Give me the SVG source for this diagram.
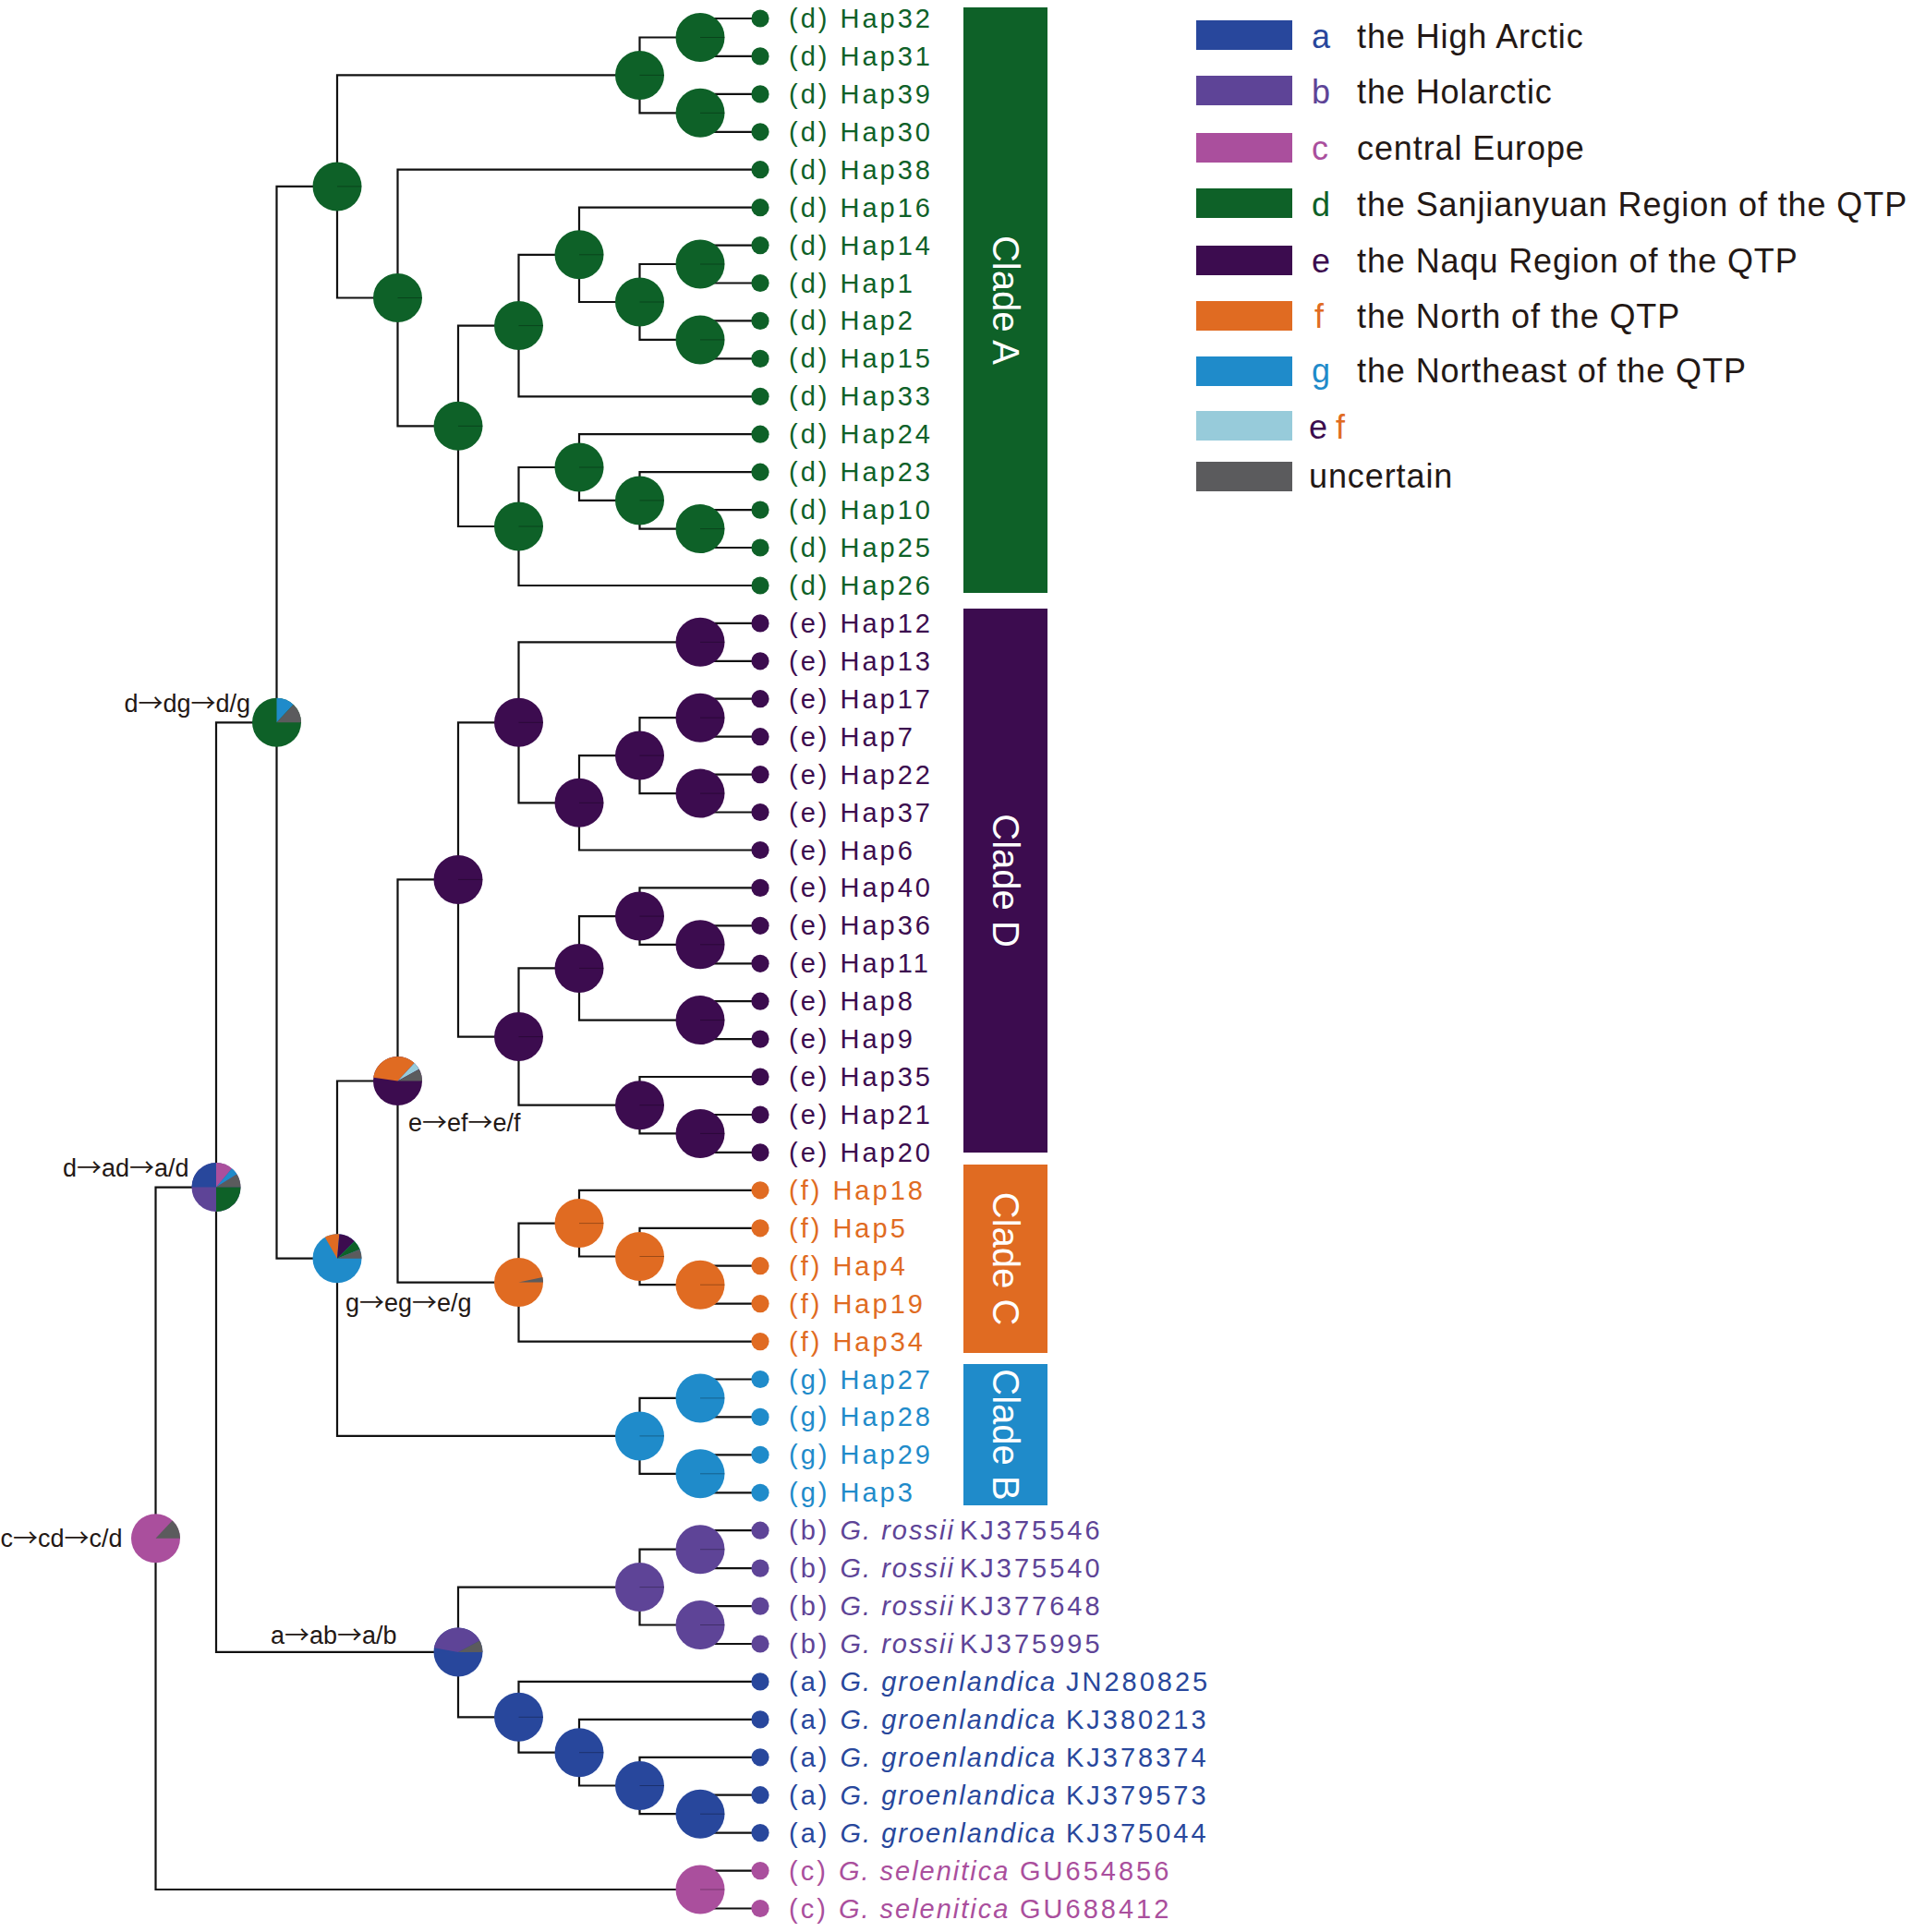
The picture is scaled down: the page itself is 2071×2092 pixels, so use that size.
<svg xmlns="http://www.w3.org/2000/svg" width="2071" height="2092" viewBox="0 0 2071 2092">
<style>
text{font-family:"Liberation Sans",Arial,sans-serif}
.a{fill:#28479c}.b{fill:#5e4497}.c{fill:#aa4f9d}.d{fill:#0e6128}.e{fill:#3c0c4f}.f{fill:#e06b22}.g{fill:#1f8bca}.ef{fill:#97cbda}.u{fill:#5b5b5d}
.conn{fill:none;stroke:#111;stroke-width:2.2;stroke-linejoin:miter}
.tk{fill:none;stroke:#000;stroke-opacity:.3;stroke-width:1}
.lbl{font-size:29px;letter-spacing:3px}
.it{font-style:italic;letter-spacing:2px}
.tl{font-size:27px;fill:#231815}
.ar{font-family:"Noto Sans CJK SC","Liberation Sans",sans-serif}
.lg{font-size:36px;letter-spacing:0.9px;fill:#231815}
.lk{font-size:36px}
.clade{font-size:40px;fill:#fff;text-anchor:middle}
</style>
<rect width="2071" height="2092" fill="#fff"/>

<g id="connectors" class="conn">
<path d="M823 20H758V60.9H823M823 101.9H758V142.8H823M758 40.5H692.5V122.3H758M823 265.6H758V306.5H823M823 347.4H758V388.4H823M758 286H692.5V367.9H758M823 224.7H627V327H692.5M627 275.8H561.5V429.3H823M823 552.1H758V593H823M823 511.2H692.5V572.6H758M823 470.2H627V541.9H692.5M627 506H561.5V634H823M561.5 352.6H496V570H561.5M823 183.7H430.5V461.3H496M692.5 81.4H365V322.5H430.5"/>
<path d="M823 674.9H758V715.8H823M823 756.7H758V797.7H823M823 838.6H758V879.5H823M758 777.2H692.5V859.1H758M692.5 818.1H627V920.5H823M758 695.3H561.5V869.3H627M823 1002.3H758V1043.3H823M823 961.4H692.5V1022.8H758M823 1084.2H758V1125.1H823M692.5 992.1H627V1104.6H758M823 1207H758V1247.9H823M823 1166H692.5V1227.4H758M627 1048.4H561.5V1196.7H692.5M561.5 782.3H496V1122.6H561.5"/>
<path d="M823 1370.7H758V1411.6H823M823 1329.8H692.5V1391.2H758M823 1288.8H627V1360.5H692.5M627 1324.6H561.5V1452.6H823M496 952.4H430.5V1388.6H561.5"/>
<path d="M823 1493.5H758V1534.4H823M823 1575.3H758V1616.3H823M758 1513.9H692.5V1595.8H758M430.5 1170.5H365V1554.9H692.5M365 201.9H299.5V1362.7H365"/>
<path d="M823 1657.2H758V1698.1H823M823 1739.1H758V1780H823M758 1677.7H692.5V1759.5H758M823 1943.7H758V1984.6H823M823 1902.8H692.5V1964.2H758M823 1861.9H627V1933.5H692.5M823 1820.9H561.5V1897.7H627M692.5 1718.6H496V1859.3H561.5M299.5 782.3H234V1788.9H496M823 2025.6H758V2066.5H823M234 1285.6H168.5V2046H758"/>
</g>

<g id="node-A-32-31" class="d"><circle cx="758" cy="40.5" r="26.5"/><path class="tk" d="M758 40.5h26.5"/></g>
<g id="node-A-39-30" class="d"><circle cx="758" cy="122.3" r="26.5"/><path class="tk" d="M758 122.3h26.5"/></g>
<g id="node-A-top" class="d"><circle cx="692.5" cy="81.4" r="26.5"/><path class="tk" d="M692.5 81.4h26.5"/></g>
<g id="node-A-14-1" class="d"><circle cx="758" cy="286" r="26.5"/><path class="tk" d="M758 286h26.5"/></g>
<g id="node-A-2-15" class="d"><circle cx="758" cy="367.9" r="26.5"/><path class="tk" d="M758 367.9h26.5"/></g>
<g id="node-A8a" class="d"><circle cx="692.5" cy="327" r="26.5"/><path class="tk" d="M692.5 327h26.5"/></g>
<g id="node-A7a" class="d"><circle cx="627" cy="275.8" r="26.5"/><path class="tk" d="M627 275.8h26.5"/></g>
<g id="node-A6a" class="d"><circle cx="561.5" cy="352.6" r="26.5"/><path class="tk" d="M561.5 352.6h26.5"/></g>
<g id="node-A-10-25" class="d"><circle cx="758" cy="572.6" r="26.5"/><path class="tk" d="M758 572.6h26.5"/></g>
<g id="node-A8b" class="d"><circle cx="692.5" cy="541.9" r="26.5"/><path class="tk" d="M692.5 541.9h26.5"/></g>
<g id="node-A7b" class="d"><circle cx="627" cy="506" r="26.5"/><path class="tk" d="M627 506h26.5"/></g>
<g id="node-A6b" class="d"><circle cx="561.5" cy="570" r="26.5"/><path class="tk" d="M561.5 570h26.5"/></g>
<g id="node-A5" class="d"><circle cx="496" cy="461.3" r="26.5"/><path class="tk" d="M496 461.3h26.5"/></g>
<g id="node-A4" class="d"><circle cx="430.5" cy="322.5" r="26.5"/><path class="tk" d="M430.5 322.5h26.5"/></g>
<g id="node-A3" class="d"><circle cx="365" cy="201.9" r="26.5"/><path class="tk" d="M365 201.9h26.5"/></g>

<g id="node-D-12-13" class="e"><circle cx="758" cy="695.3" r="26.5"/><path class="tk" d="M758 695.3h26.5"/></g>
<g id="node-D-17-7" class="e"><circle cx="758" cy="777.2" r="26.5"/><path class="tk" d="M758 777.2h26.5"/></g>
<g id="node-D-22-37" class="e"><circle cx="758" cy="859.1" r="26.5"/><path class="tk" d="M758 859.1h26.5"/></g>
<g id="node-D8a" class="e"><circle cx="692.5" cy="818.1" r="26.5"/><path class="tk" d="M692.5 818.1h26.5"/></g>
<g id="node-D7a" class="e"><circle cx="627" cy="869.3" r="26.5"/><path class="tk" d="M627 869.3h26.5"/></g>
<g id="node-D6a" class="e"><circle cx="561.5" cy="782.3" r="26.5"/><path class="tk" d="M561.5 782.3h26.5"/></g>
<g id="node-D-36-11" class="e"><circle cx="758" cy="1022.8" r="26.5"/><path class="tk" d="M758 1022.8h26.5"/></g>
<g id="node-D8b" class="e"><circle cx="692.5" cy="992.1" r="26.5"/><path class="tk" d="M692.5 992.1h26.5"/></g>
<g id="node-D-8-9" class="e"><circle cx="758" cy="1104.6" r="26.5"/><path class="tk" d="M758 1104.6h26.5"/></g>
<g id="node-D7b" class="e"><circle cx="627" cy="1048.4" r="26.5"/><path class="tk" d="M627 1048.4h26.5"/></g>
<g id="node-D-21-20" class="e"><circle cx="758" cy="1227.4" r="26.5"/><path class="tk" d="M758 1227.4h26.5"/></g>
<g id="node-D8c" class="e"><circle cx="692.5" cy="1196.7" r="26.5"/><path class="tk" d="M692.5 1196.7h26.5"/></g>
<g id="node-D6b" class="e"><circle cx="561.5" cy="1122.6" r="26.5"/><path class="tk" d="M561.5 1122.6h26.5"/></g>
<g id="node-D5" class="e"><circle cx="496" cy="952.4" r="26.5"/><path class="tk" d="M496 952.4h26.5"/></g>

<g id="node-C-4-19" class="f"><circle cx="758" cy="1391.2" r="26.5"/><path class="tk" d="M758 1391.2h26.5"/></g>
<g id="node-C8" class="f"><circle cx="692.5" cy="1360.5" r="26.5"/><path class="tk" d="M692.5 1360.5h26.5"/></g>
<g id="node-C7" class="f"><circle cx="627" cy="1324.6" r="26.5"/><path class="tk" d="M627 1324.6h26.5"/></g>
<g id="node-C6"><circle class="f" cx="561.5" cy="1388.6" r="26.5"/><path class="u" d="M561.5 1388.6L587.42 1383.09A26.5 26.5 0 0 1 588 1388.6Z"/></g>

<g id="node-B-27-28" class="g"><circle cx="758" cy="1513.9" r="26.5"/><path class="tk" d="M758 1513.9h26.5"/></g>
<g id="node-B-29-3" class="g"><circle cx="758" cy="1595.8" r="26.5"/><path class="tk" d="M758 1595.8h26.5"/></g>
<g id="node-B8" class="g"><circle cx="692.5" cy="1554.9" r="26.5"/><path class="tk" d="M692.5 1554.9h26.5"/></g>

<g id="node-b-1" class="b"><circle cx="758" cy="1677.7" r="26.5"/><path class="tk" d="M758 1677.7h26.5"/></g>
<g id="node-b-2" class="b"><circle cx="758" cy="1759.5" r="26.5"/><path class="tk" d="M758 1759.5h26.5"/></g>
<g id="node-b8" class="b"><circle cx="692.5" cy="1718.6" r="26.5"/><path class="tk" d="M692.5 1718.6h26.5"/></g>

<g id="node-a-1" class="a"><circle cx="758" cy="1964.2" r="26.5"/><path class="tk" d="M758 1964.2h26.5"/></g>
<g id="node-a8" class="a"><circle cx="692.5" cy="1933.5" r="26.5"/><path class="tk" d="M692.5 1933.5h26.5"/></g>
<g id="node-a7" class="a"><circle cx="627" cy="1897.7" r="26.5"/><path class="tk" d="M627 1897.7h26.5"/></g>
<g id="node-a6" class="a"><circle cx="561.5" cy="1859.3" r="26.5"/><path class="tk" d="M561.5 1859.3h26.5"/></g>

<g id="node-c-1" class="c"><circle cx="758" cy="2046" r="26.5"/><path class="tk" d="M758 2046h26.5"/></g>

<g id="node-dg">
<circle class="d" cx="299.5" cy="782.3" r="26.5"/>
<path class="g" d="M299.5 782.3L299.5 755.8A26.5 26.5 0 0 1 317.57 762.92Z"/>
<path class="u" d="M299.5 782.3L317.57 762.92A26.5 26.5 0 0 1 326 782.3Z"/>
<text class="tl" x="271" y="770.5" text-anchor="end">d<tspan class="ar">→</tspan>dg<tspan class="ar">→</tspan>d/g</text>
</g>
<g id="node-ad">
<circle class="b" cx="234" cy="1285.6" r="26.5"/>
<path class="a" d="M234 1285.6L207.5 1285.6A26.5 26.5 0 0 1 234 1259.1Z"/>
<path class="c" d="M234 1285.6L234 1259.1A26.5 26.5 0 0 1 251.03 1265.3Z"/>
<path class="g" d="M234 1285.6L251.03 1265.3A26.5 26.5 0 0 1 256.47 1271.56Z"/>
<path class="u" d="M234 1285.6L256.47 1271.56A26.5 26.5 0 0 1 260.5 1285.6Z"/>
<path class="d" d="M234 1285.6L260.5 1285.6A26.5 26.5 0 0 1 234 1312.1Z"/>
<text class="tl" x="204.5" y="1274" text-anchor="end">d<tspan class="ar">→</tspan>ad<tspan class="ar">→</tspan>a/d</text>
</g>
<g id="node-eg">
<circle class="g" cx="365" cy="1362.7" r="26.5"/>
<path class="f" d="M365 1362.7L351.75 1339.75A26.5 26.5 0 0 1 367.31 1336.3Z"/>
<path class="e" d="M365 1362.7L367.31 1336.3A26.5 26.5 0 0 1 383.74 1343.96Z"/>
<path class="d" d="M365 1362.7L383.74 1343.96A26.5 26.5 0 0 1 389.57 1352.77Z"/>
<path class="u" d="M365 1362.7L389.57 1352.77A26.5 26.5 0 0 1 391.5 1362.7Z"/>
<text class="tl" x="374" y="1420">g<tspan class="ar">→</tspan>eg<tspan class="ar">→</tspan>e/g</text>
</g>
<g id="node-ef">
<circle class="e" cx="430.5" cy="1170.5" r="26.5"/>
<path class="f" d="M430.5 1170.5L404.26 1166.81A26.5 26.5 0 0 1 448.57 1151.12Z"/>
<path class="ef" d="M430.5 1170.5L448.57 1151.12A26.5 26.5 0 0 1 453.68 1157.65Z"/>
<path class="u" d="M430.5 1170.5L453.68 1157.65A26.5 26.5 0 0 1 457 1170.5Z"/>
<text class="tl" x="442" y="1224.6">e<tspan class="ar">→</tspan>ef<tspan class="ar">→</tspan>e/f</text>
</g>
<g id="node-cd">
<circle class="c" cx="168.5" cy="1665.8" r="26.5"/>
<path class="u" d="M168.5 1665.8L186.57 1646.42A26.5 26.5 0 0 1 195 1665.8Z"/>
<text class="tl" x="132.5" y="1674.5" text-anchor="end">c<tspan class="ar">→</tspan>cd<tspan class="ar">→</tspan>c/d</text>
</g>
<g id="node-ab">
<circle class="a" cx="496" cy="1788.9" r="26.5"/>
<path class="b" d="M496 1788.9L469.9 1784.3A26.5 26.5 0 0 1 519.4 1776.46Z"/>
<path class="u" d="M496 1788.9L519.4 1776.46A26.5 26.5 0 0 1 522.5 1788.9Z"/>
<text class="tl" x="293" y="1779.5">a<tspan class="ar">→</tspan>ab<tspan class="ar">→</tspan>a/b</text>
</g>

<g id="leaves" class="lbl">
<g id="Hap32" class="d" transform="translate(0,20)"><circle cx="823" r="9.6"/><text x="854" y="10">(d) Hap32</text></g>
<g id="Hap31" class="d" transform="translate(0,60.9)"><circle cx="823" r="9.6"/><text x="854" y="10">(d) Hap31</text></g>
<g id="Hap39" class="d" transform="translate(0,101.9)"><circle cx="823" r="9.6"/><text x="854" y="10">(d) Hap39</text></g>
<g id="Hap30" class="d" transform="translate(0,142.8)"><circle cx="823" r="9.6"/><text x="854" y="10">(d) Hap30</text></g>
<g id="Hap38" class="d" transform="translate(0,183.7)"><circle cx="823" r="9.6"/><text x="854" y="10">(d) Hap38</text></g>
<g id="Hap16" class="d" transform="translate(0,224.7)"><circle cx="823" r="9.6"/><text x="854" y="10">(d) Hap16</text></g>
<g id="Hap14" class="d" transform="translate(0,265.6)"><circle cx="823" r="9.6"/><text x="854" y="10">(d) Hap14</text></g>
<g id="Hap1" class="d" transform="translate(0,306.5)"><circle cx="823" r="9.6"/><text x="854" y="10">(d) Hap1</text></g>
<g id="Hap2" class="d" transform="translate(0,347.4)"><circle cx="823" r="9.6"/><text x="854" y="10">(d) Hap2</text></g>
<g id="Hap15" class="d" transform="translate(0,388.4)"><circle cx="823" r="9.6"/><text x="854" y="10">(d) Hap15</text></g>
<g id="Hap33" class="d" transform="translate(0,429.3)"><circle cx="823" r="9.6"/><text x="854" y="10">(d) Hap33</text></g>
<g id="Hap24" class="d" transform="translate(0,470.2)"><circle cx="823" r="9.6"/><text x="854" y="10">(d) Hap24</text></g>
<g id="Hap23" class="d" transform="translate(0,511.2)"><circle cx="823" r="9.6"/><text x="854" y="10">(d) Hap23</text></g>
<g id="Hap10" class="d" transform="translate(0,552.1)"><circle cx="823" r="9.6"/><text x="854" y="10">(d) Hap10</text></g>
<g id="Hap25" class="d" transform="translate(0,593)"><circle cx="823" r="9.6"/><text x="854" y="10">(d) Hap25</text></g>
<g id="Hap26" class="d" transform="translate(0,634)"><circle cx="823" r="9.6"/><text x="854" y="10">(d) Hap26</text></g>
<g id="Hap12" class="e" transform="translate(0,674.9)"><circle cx="823" r="9.6"/><text x="854" y="10">(e) Hap12</text></g>
<g id="Hap13" class="e" transform="translate(0,715.8)"><circle cx="823" r="9.6"/><text x="854" y="10">(e) Hap13</text></g>
<g id="Hap17" class="e" transform="translate(0,756.7)"><circle cx="823" r="9.6"/><text x="854" y="10">(e) Hap17</text></g>
<g id="Hap7" class="e" transform="translate(0,797.7)"><circle cx="823" r="9.6"/><text x="854" y="10">(e) Hap7</text></g>
<g id="Hap22" class="e" transform="translate(0,838.6)"><circle cx="823" r="9.6"/><text x="854" y="10">(e) Hap22</text></g>
<g id="Hap37" class="e" transform="translate(0,879.5)"><circle cx="823" r="9.6"/><text x="854" y="10">(e) Hap37</text></g>
<g id="Hap6" class="e" transform="translate(0,920.5)"><circle cx="823" r="9.6"/><text x="854" y="10">(e) Hap6</text></g>
<g id="Hap40" class="e" transform="translate(0,961.4)"><circle cx="823" r="9.6"/><text x="854" y="10">(e) Hap40</text></g>
<g id="Hap36" class="e" transform="translate(0,1002.3)"><circle cx="823" r="9.6"/><text x="854" y="10">(e) Hap36</text></g>
<g id="Hap11" class="e" transform="translate(0,1043.3)"><circle cx="823" r="9.6"/><text x="854" y="10">(e) Hap11</text></g>
<g id="Hap8" class="e" transform="translate(0,1084.2)"><circle cx="823" r="9.6"/><text x="854" y="10">(e) Hap8</text></g>
<g id="Hap9" class="e" transform="translate(0,1125.1)"><circle cx="823" r="9.6"/><text x="854" y="10">(e) Hap9</text></g>
<g id="Hap35" class="e" transform="translate(0,1166)"><circle cx="823" r="9.6"/><text x="854" y="10">(e) Hap35</text></g>
<g id="Hap21" class="e" transform="translate(0,1207)"><circle cx="823" r="9.6"/><text x="854" y="10">(e) Hap21</text></g>
<g id="Hap20" class="e" transform="translate(0,1247.9)"><circle cx="823" r="9.6"/><text x="854" y="10">(e) Hap20</text></g>
<g id="Hap18" class="f" transform="translate(0,1288.8)"><circle cx="823" r="9.6"/><text x="854" y="10">(f) Hap18</text></g>
<g id="Hap5" class="f" transform="translate(0,1329.8)"><circle cx="823" r="9.6"/><text x="854" y="10">(f) Hap5</text></g>
<g id="Hap4" class="f" transform="translate(0,1370.7)"><circle cx="823" r="9.6"/><text x="854" y="10">(f) Hap4</text></g>
<g id="Hap19" class="f" transform="translate(0,1411.6)"><circle cx="823" r="9.6"/><text x="854" y="10">(f) Hap19</text></g>
<g id="Hap34" class="f" transform="translate(0,1452.6)"><circle cx="823" r="9.6"/><text x="854" y="10">(f) Hap34</text></g>
<g id="Hap27" class="g" transform="translate(0,1493.5)"><circle cx="823" r="9.6"/><text x="854" y="10">(g) Hap27</text></g>
<g id="Hap28" class="g" transform="translate(0,1534.4)"><circle cx="823" r="9.6"/><text x="854" y="10">(g) Hap28</text></g>
<g id="Hap29" class="g" transform="translate(0,1575.3)"><circle cx="823" r="9.6"/><text x="854" y="10">(g) Hap29</text></g>
<g id="Hap3" class="g" transform="translate(0,1616.3)"><circle cx="823" r="9.6"/><text x="854" y="10">(g) Hap3</text></g>
<g id="KJ375546" class="b" transform="translate(0,1657.2)"><circle cx="823" r="9.6"/><text x="854" y="10">(b) <tspan class="it">G. rossii</tspan> <tspan x="1039">KJ375546</tspan></text></g>
<g id="KJ375540" class="b" transform="translate(0,1698.1)"><circle cx="823" r="9.6"/><text x="854" y="10">(b) <tspan class="it">G. rossii</tspan> <tspan x="1039">KJ375540</tspan></text></g>
<g id="KJ377648" class="b" transform="translate(0,1739.1)"><circle cx="823" r="9.6"/><text x="854" y="10">(b) <tspan class="it">G. rossii</tspan> <tspan x="1039">KJ377648</tspan></text></g>
<g id="KJ375995" class="b" transform="translate(0,1780)"><circle cx="823" r="9.6"/><text x="854" y="10">(b) <tspan class="it">G. rossii</tspan> <tspan x="1039">KJ375995</tspan></text></g>
<g id="JN280825" class="a" transform="translate(0,1820.9)"><circle cx="823" r="9.6"/><text x="854" y="10">(a) <tspan class="it">G. groenlandica</tspan> <tspan x="1154">JN280825</tspan></text></g>
<g id="KJ380213" class="a" transform="translate(0,1861.9)"><circle cx="823" r="9.6"/><text x="854" y="10">(a) <tspan class="it">G. groenlandica</tspan> <tspan x="1154">KJ380213</tspan></text></g>
<g id="KJ378374" class="a" transform="translate(0,1902.8)"><circle cx="823" r="9.6"/><text x="854" y="10">(a) <tspan class="it">G. groenlandica</tspan> <tspan x="1154">KJ378374</tspan></text></g>
<g id="KJ379573" class="a" transform="translate(0,1943.7)"><circle cx="823" r="9.6"/><text x="854" y="10">(a) <tspan class="it">G. groenlandica</tspan> <tspan x="1154">KJ379573</tspan></text></g>
<g id="KJ375044" class="a" transform="translate(0,1984.6)"><circle cx="823" r="9.6"/><text x="854" y="10">(a) <tspan class="it">G. groenlandica</tspan> <tspan x="1154">KJ375044</tspan></text></g>
<g id="GU654856" class="c" transform="translate(0,2025.6)"><circle cx="823" r="9.6"/><text x="854" y="10">(c) <tspan class="it">G. selenitica</tspan> <tspan x="1104">GU654856</tspan></text></g>
<g id="GU688412" class="c" transform="translate(0,2066.5)"><circle cx="823" r="9.6"/><text x="854" y="10">(c) <tspan class="it">G. selenitica</tspan> <tspan x="1104">GU688412</tspan></text></g>
</g>

<g id="clade-A"><rect class="d" x="1043" y="8" width="91" height="634"/><text class="clade" transform="translate(1088.5,325) rotate(90)" y="14">Clade A</text></g>
<g id="clade-D"><rect class="e" x="1043" y="659" width="91" height="589"/><text class="clade" transform="translate(1088.5,953.5) rotate(90)" y="14">Clade D</text></g>
<g id="clade-C"><rect class="f" x="1043" y="1261" width="91" height="204"/><text class="clade" transform="translate(1088.5,1363) rotate(90)" y="14">Clade C</text></g>
<g id="clade-B"><rect class="g" x="1043" y="1477" width="91" height="153"/><text class="clade" transform="translate(1088.5,1553.5) rotate(90)" y="14">Clade B</text></g>

<g id="legend">
<g id="leg-a"><rect class="a" x="1295" y="22" width="104" height="32"/><text class="lk a" x="1420" y="52">a</text><text class="lg" x="1469" y="52">the High Arctic</text></g>
<g id="leg-b"><rect class="b" x="1295" y="82" width="104" height="32"/><text class="lk b" x="1420" y="112">b</text><text class="lg" x="1469" y="112">the Holarctic</text></g>
<g id="leg-c"><rect class="c" x="1295" y="144" width="104" height="32"/><text class="lk c" x="1420" y="173">c</text><text class="lg" x="1469" y="173">central Europe</text></g>
<g id="leg-d"><rect class="d" x="1295" y="204" width="104" height="32"/><text class="lk d" x="1420" y="234">d</text><text class="lg" x="1469" y="234">the Sanjianyuan Region of the QTP</text></g>
<g id="leg-e"><rect class="e" x="1295" y="266" width="104" height="32"/><text class="lk e" x="1420" y="295">e</text><text class="lg" x="1469" y="295">the Naqu Region of the QTP</text></g>
<g id="leg-f"><rect class="f" x="1295" y="326" width="104" height="32"/><text class="lk f" x="1423" y="355">f</text><text class="lg" x="1469" y="355">the North of the QTP</text></g>
<g id="leg-g"><rect class="g" x="1295" y="386" width="104" height="32"/><text class="lk g" x="1420" y="414">g</text><text class="lg" x="1469" y="414">the Northeast of the QTP</text></g>
<g id="leg-ef"><rect class="ef" x="1295" y="445" width="104" height="32"/><text class="lk" y="475"><tspan class="e" x="1417">e</tspan><tspan class="f" x="1446">f</tspan></text></g>
<g id="leg-u"><rect class="u" x="1295" y="500" width="104" height="32"/><text class="lg" x="1417" y="528">uncertain</text></g>
</g>
</svg>
